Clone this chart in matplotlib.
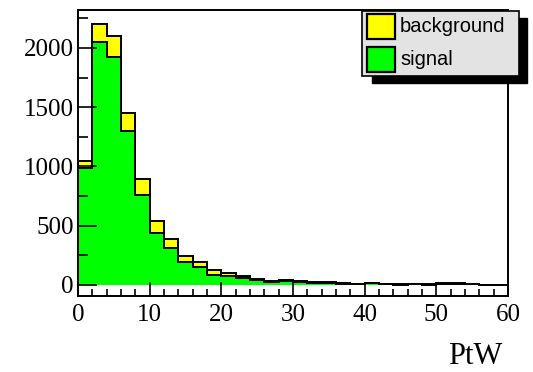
import numpy as np
import matplotlib
matplotlib.use("Agg")
import matplotlib.pyplot as plt
from matplotlib.patches import Rectangle

# PtW histogram, 2 GeV bins from 0 to 60
edges = np.arange(0, 62, 2)
signal = [985, 2050, 1925, 1300, 760, 436, 309, 197, 155, 88,
          79, 56, 38, 28, 32, 25, 19, 15, 12, 8,
          13, 8, 4, 8, 4, 10, 10, 6, 2, 2]
background = [60, 150, 175, 152, 135, 103, 76, 48, 42, 36,
              22, 22, 12, 9, 14, 10, 6, 7, 5, 3,
              6, 3, 2, 3, 2, 4, 4, 2, 1, 1]
labels = ["background", "signal"]
colors = ["#ffff00", "#00ff00"]

signal = np.array(signal)
total = signal + np.array(background)

plt.rcParams["font.family"] = ["Liberation Serif", "DejaVu Serif"]
fig = plt.figure(figsize=(5.33, 3.72), dpi=100)
ax = fig.add_axes([0.1463, 0.2043, 0.8068, 0.7688])

ax.stairs(total, edges, fill=True, color=colors[0], baseline=0)
ax.stairs(total, edges, color="black", lw=1.4, baseline=0)
ax.stairs(signal, edges, fill=True, color=colors[1], baseline=0)
ax.stairs(signal, edges, color="black", lw=1.4, baseline=None)

ax.set_xlim(0, 60)
ax.set_ylim(-93, 2320)
ax.set_xticks(np.arange(0, 61, 10))
ax.set_xticks(np.arange(0, 61, 2), minor=True)
ax.set_yticks(np.arange(0, 2001, 500))
ax.set_yticks(np.arange(0, 2251, 250), minor=True)
ax.tick_params(direction="in", which="major", length=10, width=1.2, labelsize=18)
ax.tick_params(direction="in", which="minor", length=5, width=1.2)
ax.tick_params(axis="y", which="major", length=14, pad=3)
ax.tick_params(axis="y", which="minor", length=7)
ax.tick_params(axis="x", pad=6)
for s in ax.spines.values():
    s.set_linewidth(1.4)

fig.text(502 / 533, 1 / 372, "PtW", fontsize=22, ha="right", va="bottom")

# legend box with ROOT-style shadow
W, H = 533.0, 372.0
fig.patches.append(Rectangle((372 / W, 1 - 83 / H), 155 / W, 65 / H,
                             transform=fig.transFigure, color="black", zorder=5))
fig.patches.append(Rectangle((362 / W, 1 - 76 / H), 157 / W, 65 / H,
                             transform=fig.transFigure, facecolor="#e3e3e3",
                             edgecolor="black", lw=1.2, zorder=6))
for i, (lab, c) in enumerate(zip(labels, colors)):
    ytop = 14 + i * 33
    fig.patches.append(Rectangle((367 / W, 1 - (ytop + 25) / H), 28 / W, 25 / H,
                                 transform=fig.transFigure, facecolor=c,
                                 edgecolor="black", lw=1.6, zorder=7))
    fig.text(400 / W, 1 - (ytop + 12.5) / H, lab, fontsize=14.5,
             family=["Liberation Sans", "DejaVu Sans"], va="center", zorder=8)

fig.savefig("out.png", dpi=100)
